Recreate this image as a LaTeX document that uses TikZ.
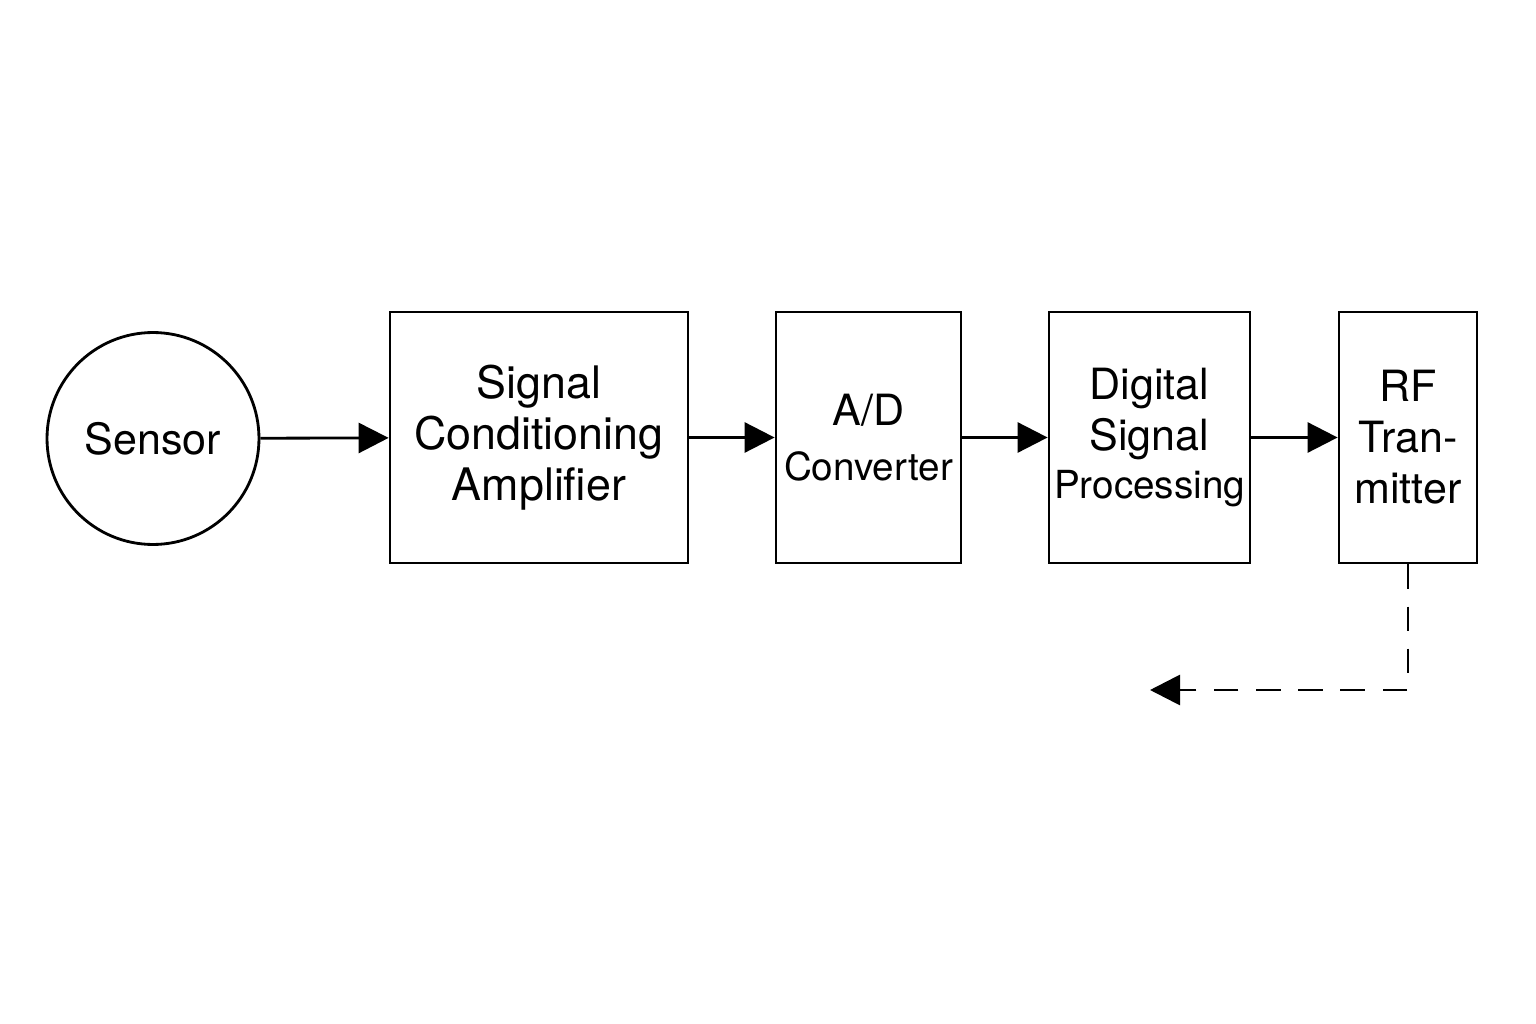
\documentclass[tikz,border=0pt]{standalone}
\usepackage{fontspec}
\setmainfont{TeX Gyre Heros}
\usetikzlibrary{arrows.meta}
\usetikzlibrary{positioning}
\tikzset{
	blk/.style={draw, line width=1.6pt, minimum height=5.02cm, inner sep=0pt, align=center, font=\fontsize{24.5}{29}\selectfont},
	flow/.style={line width=1.6pt, -{Triangle[length=0.6cm, width=0.6cm]}}
}
\newcommand{\smalltxt}[1]{{\fontsize{22}{29}\selectfont #1}}

\begin{document}
\begin{tikzpicture}[x=0.02cm, y=-0.02cm]
				\useasboundingbox (0,0) rectangle (1536,1024);
				\node[draw, circle, line width=1.6pt, minimum size=4.24cm, inner sep=0pt, font=\fontsize{24.5}{29}\selectfont] (sensor) at (153,438.5) {Sensor};
				\node[blk, minimum width=5.96cm, font=\fontsize{25.5}{29}\selectfont] (amp) at (539,437.5) {Signal\\Conditioning\\Amplifier};
				\node[blk, minimum width=3.7cm] (adc) at (868.5,437.5) {A/D\\[2pt]\smalltxt{Converter}};
				\node[blk, minimum width=4.02cm] (dsp) at (1149.5,437.5) {Digital\\Signal\\[-2pt]\smalltxt{Processing}};
				\node[blk, minimum width=2.76cm] (rf) at (1408,437.5) {RF\\Tran-\\mitter};
				\coordinate (bend) at (1408,690);
				\coordinate (out) at (1150,690);
				\draw[flow] (sensor) -- (amp);
				\draw[flow] (amp) -- (adc);
				\draw[flow] (adc) -- (dsp);
				\draw[flow] (dsp) -- (rf);
				\draw[flow, dash pattern=on 14pt off 10pt] (rf.south) -- (bend) -- (out);
			\end{tikzpicture}
\end{document}
